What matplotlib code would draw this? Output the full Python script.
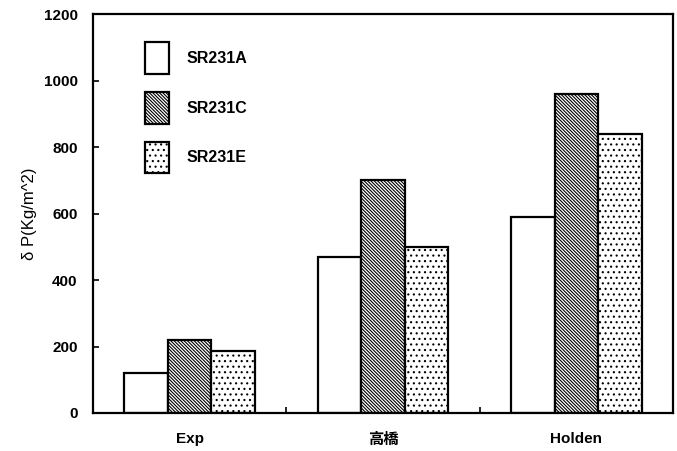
import numpy as np
import matplotlib.pyplot as plt
from matplotlib.ticker import MultipleLocator

plt.rcParams['font.family'] = ['Liberation Sans', 'Noto Sans CJK JP']
plt.rcParams['hatch.linewidth'] = 0.8

categories = ['Exp', '高橋', 'Holden']
series = ['SR231A', 'SR231C', 'SR231E']
sr231a = [120, 470, 590]
sr231c = [220, 700, 960]
sr231e = [185, 500, 840]
hatches = ['', '\\' * 10, '...']

fig = plt.figure(figsize=(6.77, 4.51), dpi=100)
ax = fig.add_axes([93/677, 1 - 413/451, 580/677, 399/451])

x = np.arange(len(categories))
w = 0.225
for i, (vals, h, lab) in enumerate(zip([sr231a, sr231c, sr231e], hatches, series)):
    ax.bar(x + (i - 1) * w, vals, w, facecolor='white', edgecolor='black',
           hatch=h, linewidth=1.6, label=lab)

ax.set_xlim(-0.5, 2.5)
ax.set_ylim(0, 1200)
ax.yaxis.set_major_locator(MultipleLocator(200))
ax.set_xticks(x)
ax.set_xticklabels(categories, fontsize=11, fontweight='bold')
ax.set_xticks([0.5, 1.5], minor=True)
ax.tick_params(axis='x', which='major', length=0, pad=14)
ax.tick_params(axis='x', which='minor', direction='in', length=4, width=1.2)
ax.tick_params(axis='y', direction='in', length=4, width=1.2, labelsize=11, pad=11)
for t in ax.get_yticklabels():
    t.set_fontweight('bold')
for s in ax.spines.values():
    s.set_linewidth(1.6)

ax.set_ylabel('δ P(Kg/m^2)', fontsize=12, labelpad=5)

leg = ax.legend(loc='upper left', bbox_to_anchor=(0.065, 0.965), frameon=False,
                handlelength=1.5, handleheight=2.65, labelspacing=1.15,
                handletextpad=1.1, prop={'size': 11.5, 'weight': 'bold'})

fig.savefig('out.png', dpi=100)
